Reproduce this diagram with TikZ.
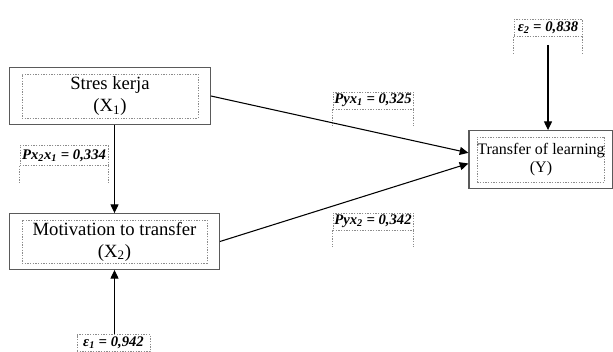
\documentclass[tikz,border=0pt]{standalone}
\usepackage{fontspec}
\setmainfont{Liberation Serif}
\usepackage{tikz}
\usetikzlibrary{arrows.meta,positioning,fit,calc}
\definecolor{Frame}{HTML}{5A5A5A}
\definecolor{Dots}{HTML}{8C8C8C}
\tikzset{
  inbox/.style={draw=Dots, line width=0.5pt, dash pattern=on 1pt off 1pt,
                align=center, inner sep=0pt, font=\fontsize{14}{16.5}\selectfont},
  box/.style={draw=Frame, line width=0.9pt, inner xsep=9pt, inner ysep=4.5pt},
  coef/.style={draw=Dots, line width=0.5pt, dash pattern=on 1pt off 1pt,
               minimum height=12.75pt, inner sep=1pt,
               font=\fontsize{11}{13}\selectfont\bfseries\itshape},
  tail/.style={draw=Dots, line width=0.5pt, dash pattern=on 1pt off 1pt},
  arrow/.style={-{Triangle[length=6.5pt,width=6pt]}, line width=0.8pt},
}

\begin{document}
\begin{tikzpicture}[x=0.75pt, y=0.75pt]
  \useasboundingbox (0,0) rectangle (613,351);

  % variables
  \node[inbox, minimum width=132pt, minimum height=33pt] (stresIn) at (110,255)
    {Stres kerja\\(X\textsubscript{1})};
  \node[box, fit=(stresIn)] (stres) {};
  \node[inbox, minimum width=138.75pt, minimum height=32.25pt] (motIn) at (114.5,109.5)
    {Motivation to transfer\\(X\textsubscript{2})};
  \node[box, fit=(motIn)] (mot) {};
  \node[inbox, minimum width=94.5pt, minimum height=33.75pt,
        font=\fontsize{12}{14}\selectfont] (transIn) at (541,191.5)
    {Transfer of learning\\(Y)};
  \node[box, inner xsep=6pt, fit=(transIn)] (trans) {};

  % path coefficients and residuals
  \node[coef, minimum width=51pt] (eps2) at (548,323) {ε\textsubscript{2} = 0,838};
  \node[coef, minimum width=60pt] (pyx1) at (373,250.5) {Pyx\textsubscript{1} = 0,325};
  \node[coef, minimum width=60pt] (pyx2) at (373,129.5) {Pyx\textsubscript{2} = 0,342};
  \node[coef, minimum width=66pt, minimum height=15pt] (pxx) at (64,195.5)
    {Px\textsubscript{2}x\textsubscript{1} = 0,334};
  \node[coef, minimum width=55pt] (eps1) at (113.5,8) {ε\textsubscript{1} = 0,942};

  \foreach \c in {eps2,pyx1,pyx2,pxx} {
    \draw[tail] (\c.south west) -- ++(0,-17);
    \draw[tail] (\c.south east) -- ++(0,-17);
  }

  \draw[arrow] (stres.south -| mot.north) -- (mot.north);
  \draw[arrow] (eps1.north -| mot.south) -- (mot.south);
  \draw[arrow] (stres.east) -- ([yshift=5pt]trans.west);
  \draw[arrow] (mot.east) -- ([yshift=-3pt]trans.west);
  \draw[arrow] ([yshift=-6pt]eps2.south) -- (eps2.south |- trans.north);
\end{tikzpicture}
\end{document}
